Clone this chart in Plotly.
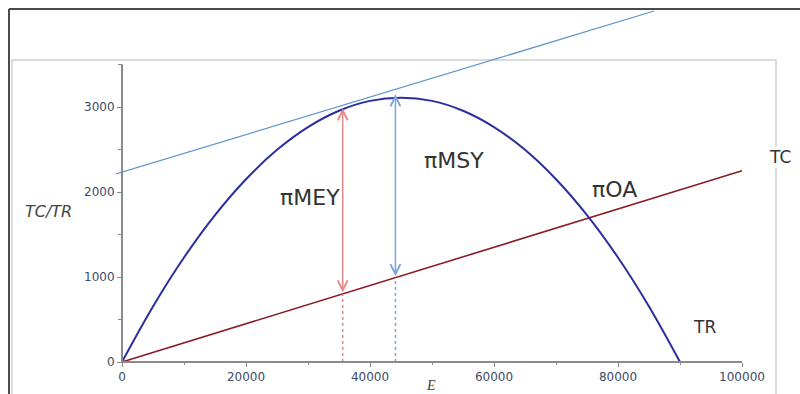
import plotly.graph_objects as go

# ---- data ----
E_tr = [0, 5000, 10000, 15000, 20000, 25000, 30000, 35000, 40000, 45000,
        50000, 55000, 60000, 65000, 70000, 75000, 80000, 85000, 90000]
TR = [0, 653, 1229, 1728, 2150, 2496, 2764, 2956, 3072, 3110,
      3072, 2956, 2764, 2496, 2150, 1728, 1229, 653, 0]

E_tc = [0, 100000]
TC = [0, 2250]

E_tan = [-968, 85800]
TAN = [2212, 4129]

E_mey = 35600
TR_mey = 2984
TC_mey = 801

E_msy = 44100
TR_msy = 3150
TC_msy = 992

x_ticks = [0, 20000, 40000, 60000, 80000, 100000]
x_minor = [10000, 30000, 50000, 70000, 90000]
y_ticks = [0, 1000, 2000, 3000]
y_minor = [500, 1500, 2500, 3500]

# ---- layout geometry ----
W, H = 800, 394
ML, MR, MT, MB = 116, 10, 9, 27
PW, PH = W - ML - MR, H - MT - MB
px_per_E = 6.2 / 1000
px_per_Y = 85 / 1000
x0_px = 122
y0_px = 362
xmin = -(x0_px - ML) / px_per_E
xmax = xmin + PW / px_per_E
ymax = (y0_px - MT) / px_per_Y
ymin = -(H - MB - y0_px) / px_per_Y


def pxp(px):
    return (px - ML) / PW


def pyp(py):
    return (H - MB - py) / PH


TR_COL = "#2b2e9c"
TC_COL = "#8b1c24"
TAN_COL = "#5f95cf"
RED_A = "#e48a8a"
BLUE_A = "#7aa6dc"
AX_COL = "#8a8a8a"
TICK_FONT = dict(family="DejaVu Sans", size=12, color="#3d4a66")

fig = go.Figure()

fig.add_trace(go.Scatter(x=E_tan, y=TAN, mode="lines",
                         line=dict(color=TAN_COL, width=1.2), hoverinfo="skip"))
fig.add_trace(go.Scatter(x=E_tc, y=TC, mode="lines",
                         line=dict(color=TC_COL, width=1.6), hoverinfo="skip"))
fig.add_trace(go.Scatter(x=E_tr, y=TR, mode="lines", line_shape="spline",
                         line=dict(color=TR_COL, width=2), hoverinfo="skip"))
fig.add_trace(go.Scatter(x=[E_mey, E_mey], y=[0, TC_mey], mode="lines",
                         line=dict(color=RED_A, width=1.5, dash="dot"), hoverinfo="skip"))
fig.add_trace(go.Scatter(x=[E_msy, E_msy], y=[0, TC_msy], mode="lines",
                         line=dict(color=BLUE_A, width=1.5, dash="dot"), hoverinfo="skip"))

# axis lines drawn from the data origin
fig.add_shape(type="line", xref="x", yref="y", x0=0, y0=0, x1=0, y1=y_minor[-1],
              line=dict(color=AX_COL, width=2))
fig.add_shape(type="line", xref="x", yref="y", x0=0, y0=0, x1=x_ticks[-1], y1=0,
              line=dict(color=AX_COL, width=2))

# frames
fig.add_shape(type="line", xref="paper", yref="paper", x0=pxp(9), x1=pxp(800),
              y0=pyp(9), y1=pyp(9), line=dict(color="#4a4a4a", width=2), layer="below")
fig.add_shape(type="line", xref="paper", yref="paper", x0=pxp(9), x1=pxp(9),
              y0=pyp(9), y1=pyp(400), line=dict(color="#4a4a4a", width=2), layer="below")
fig.add_shape(type="rect", xref="paper", yref="paper", x0=pxp(12), x1=pxp(776),
              y0=pyp(60), y1=pyp(420), line=dict(color="#cfcfcf", width=1.5), layer="below")

# double arrows
fig.add_annotation(x=E_mey, y=TR_mey, ax=E_mey, ay=TC_mey, xref="x", yref="y",
                   axref="x", ayref="y", text="", showarrow=True, arrowside="end+start",
                   arrowhead=5, startarrowhead=5, arrowsize=1.3, startarrowsize=1.3,
                   arrowwidth=1.5, arrowcolor=RED_A, standoff=0, startstandoff=0)
fig.add_annotation(x=E_msy, y=TR_msy, ax=E_msy, ay=TC_msy, xref="x", yref="y",
                   axref="x", ayref="y", text="", showarrow=True, arrowside="end+start",
                   arrowhead=5, startarrowhead=5, arrowsize=1.3, startarrowsize=1.3,
                   arrowwidth=1.5, arrowcolor=BLUE_A, standoff=0, startstandoff=0)

LBL = dict(family="DejaVu Sans", size=22, color="#333333")
fig.add_annotation(x=30300, y=1930, text="πMEY", showarrow=False, font=LBL,
                   xanchor="center", yanchor="middle")
fig.add_annotation(x=53600, y=2375, text="πMSY", showarrow=False, font=LBL,
                   xanchor="center", yanchor="middle")
fig.add_annotation(x=79400, y=2035, text="πOA", showarrow=False, font=LBL,
                   xanchor="center", yanchor="middle")
fig.add_annotation(x=106100, y=2410, text="TC", showarrow=False, bgcolor="white",
                   borderpad=0, xanchor="center", yanchor="middle",
                   font=dict(family="DejaVu Sans", size=17, color="#333333"))
fig.add_annotation(x=94000, y=412, text="TR", showarrow=False,
                   xanchor="center", yanchor="middle",
                   font=dict(family="DejaVu Sans", size=17, color="#333333"))

fig.add_annotation(xref="paper", yref="paper", x=pxp(48), y=pyp(212), text="TC/TR",
                   showarrow=False, xanchor="center", yanchor="middle",
                   font=dict(family="DejaVu Sans", size=16, color="#444444", style="italic"))
fig.add_annotation(xref="paper", yref="paper", x=pxp(431), y=pyp(385), text="E",
                   showarrow=False, xanchor="center", yanchor="middle",
                   font=dict(family="Liberation Serif", size=14, color="#444444", style="italic"))

fig.update_layout(
    width=W, height=H,
    margin=dict(l=ML, r=MR, t=MT, b=MB, pad=0),
    paper_bgcolor="white", plot_bgcolor="rgba(0,0,0,0)",
    showlegend=False,
    xaxis=dict(range=[xmin, xmax], showgrid=False, zeroline=False, showline=False,
               anchor="free", position=(0 - ymin) / (ymax - ymin),
               tickmode="array", tickvals=x_ticks, ticktext=[str(v) for v in x_ticks],
               ticks="outside", ticklen=4, tickwidth=1, tickcolor=AX_COL,
               tickfont=TICK_FONT,
               minor=dict(tickvals=x_minor, ticks="outside", ticklen=2, tickcolor=AX_COL)),
    yaxis=dict(range=[ymin, ymax], showgrid=False, zeroline=False, showline=False,
               anchor="free", position=(0 - xmin) / (xmax - xmin),
               tickmode="array", tickvals=y_ticks, ticktext=[str(v) for v in y_ticks],
               ticks="outside", ticklen=5, tickwidth=1, tickcolor=AX_COL,
               tickfont=TICK_FONT,
               minor=dict(tickvals=y_minor, ticks="outside", ticklen=4, tickcolor=AX_COL)),
)

fig.write_html("out.html", config={"displayModeBar": False},
               post_script="document.body.style.margin='0';")
